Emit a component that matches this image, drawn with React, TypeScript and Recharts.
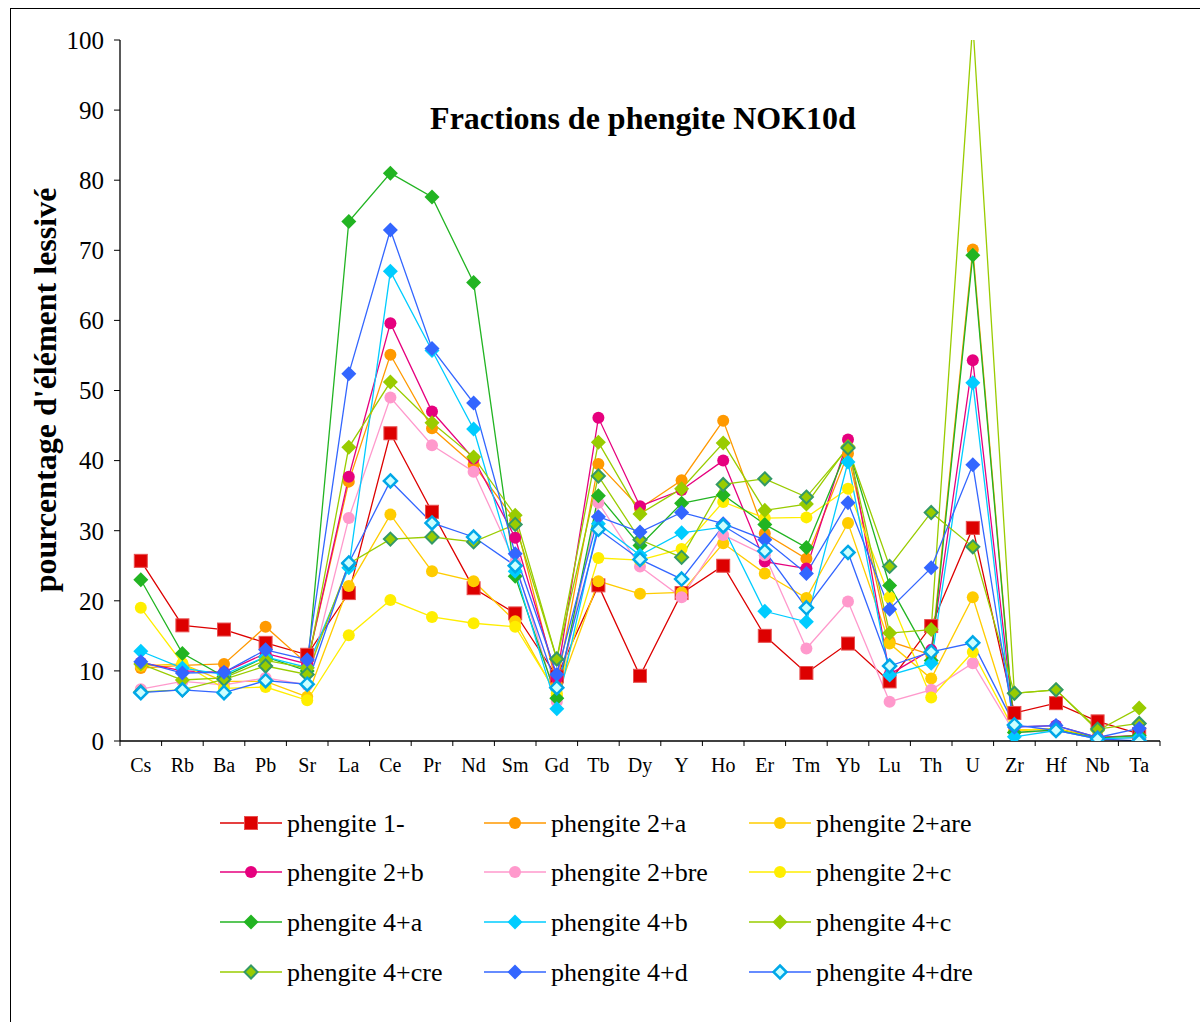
import { LineChart, Line, XAxis, YAxis } from "recharts";

const categories = [
  "Cs", "Rb", "Ba", "Pb", "Sr", "La", "Ce", "Pr", "Nd", "Sm", "Gd", "Tb", "Dy",
  "Y", "Ho", "Er", "Tm", "Yb", "Lu", "Th", "U", "Zr", "Hf", "Nb", "Ta",
];

const yTicks = [0, 10, 20, 30, 40, 50, 60, 70, 80, 90, 100];

// pourcentage d'élément lessivé, par fraction
const p1 = [25.7, 16.5, 15.9, 14.0, 12.3, 21.1, 43.9, 32.7, 21.8, 18.2, 9.2, 22.2, 9.3, 21.1, 25.0, 15.0, 9.7, 13.9, 8.5, 16.4, 30.4, 4.0, 5.4, 2.8, 1.0];
const p2a = [10.4, 10.8, 11.0, 16.3, 11.0, 37.0, 55.1, 44.6, 39.4, 31.5, 8.0, 39.5, 33.2, 37.2, 45.7, 29.6, 26.0, 41.0, 14.2, 12.3, 70.1, 1.5, 1.8, 0.5, 0.7];
const p2are = [10.7, 11.0, 8.5, 8.5, 6.3, 22.1, 32.3, 24.2, 22.8, 17.1, 6.5, 22.8, 21.0, 21.2, 28.2, 23.9, 20.4, 31.1, 13.9, 8.9, 20.5, 1.5, 1.7, 0.4, 0.6];
const p2b = [11.2, 10.0, 9.8, 12.5, 11.0, 37.7, 59.6, 47.0, 40.3, 29.0, 9.0, 46.1, 33.5, 35.8, 40.0, 25.6, 24.6, 43.0, 9.5, 13.0, 54.3, 2.0, 2.2, 0.5, 0.8];
const p2bre = [7.4, 8.5, 8.0, 9.0, 8.0, 31.8, 49.0, 42.2, 38.4, 25.5, 5.6, 34.0, 24.9, 20.5, 29.4, 26.5, 13.2, 19.9, 5.6, 7.3, 11.1, 1.2, 1.5, 0.3, 0.5];
const p2c = [19.0, 11.1, 7.5, 7.7, 5.8, 15.1, 20.1, 17.7, 16.8, 16.3, 6.8, 26.1, 25.8, 27.4, 34.1, 31.8, 31.9, 36.0, 20.5, 6.2, 12.7, 1.5, 1.8, 0.3, 0.6];
const p4a = [23.0, 12.5, 9.2, 12.0, 10.0, 74.1, 81.0, 77.6, 65.4, 23.5, 6.1, 35.0, 27.9, 33.9, 35.1, 30.9, 27.6, 41.9, 22.2, 11.5, 69.3, 1.2, 1.6, 0.4, 0.8];
const p4b = [12.8, 10.4, 9.5, 12.0, 10.5, 24.7, 67.0, 55.7, 44.5, 24.2, 4.6, 31.0, 26.5, 29.7, 30.5, 18.5, 17.0, 39.8, 9.4, 11.1, 51.1, 0.6, 1.5, 0.3, 0.5];
const p4c = [11.0, 8.7, 9.0, 11.5, 10.4, 41.9, 51.2, 45.4, 40.5, 32.2, 11.7, 42.6, 32.4, 36.0, 42.5, 32.9, 33.8, 42.0, 15.4, 15.9, 102.5, 6.8, 7.3, 1.5, 4.7];
const p4cre = [7.0, 7.3, 8.8, 10.7, 9.5, 25.3, 28.8, 29.1, 28.4, 30.9, 11.7, 37.8, 28.7, 26.2, 36.6, 37.4, 34.8, 41.8, 24.9, 32.6, 27.7, 6.8, 7.3, 1.7, 2.5];
const p4d = [11.3, 9.7, 9.8, 13.0, 11.6, 52.4, 72.9, 56.0, 48.2, 26.7, 9.5, 32.0, 29.8, 32.6, 31.0, 28.7, 23.9, 34.0, 18.8, 24.7, 39.4, 2.0, 2.2, 0.5, 1.8];
const p4dre = [6.9, 7.3, 6.9, 8.6, 8.1, 25.4, 37.1, 31.1, 29.1, 25.0, 7.6, 30.2, 25.9, 23.1, 30.7, 27.1, 19.0, 26.9, 10.7, 12.7, 14.0, 2.3, 1.5, 0.3, 0.0];

type Shape = "square" | "circle" | "diamond";

const series = [
  { key: "p1", name: "phengite 1-", values: p1, line: "#DD0000", shape: "square" as Shape, fill: "#DD0000", stroke: "#E85050", sw: 1 },
  { key: "p2a", name: "phengite 2+a", values: p2a, line: "#FF9900", shape: "circle" as Shape, fill: "#FF9900", stroke: "none", sw: 0 },
  { key: "p2are", name: "phengite 2+are", values: p2are, line: "#FFCC00", shape: "circle" as Shape, fill: "#FFCC00", stroke: "none", sw: 0 },
  { key: "p2b", name: "phengite 2+b", values: p2b, line: "#E6007E", shape: "circle" as Shape, fill: "#E6007E", stroke: "none", sw: 0 },
  { key: "p2bre", name: "phengite 2+bre", values: p2bre, line: "#FF99CC", shape: "circle" as Shape, fill: "#FF99CC", stroke: "none", sw: 0 },
  { key: "p2c", name: "phengite 2+c", values: p2c, line: "#FFEE00", shape: "circle" as Shape, fill: "#FFEE00", stroke: "none", sw: 0 },
  { key: "p4a", name: "phengite 4+a", values: p4a, line: "#22B422", shape: "diamond" as Shape, fill: "#22B422", stroke: "none", sw: 0 },
  { key: "p4b", name: "phengite 4+b", values: p4b, line: "#00CCFF", shape: "diamond" as Shape, fill: "#00CCFF", stroke: "none", sw: 0 },
  { key: "p4c", name: "phengite 4+c", values: p4c, line: "#99CC00", shape: "diamond" as Shape, fill: "#99CC00", stroke: "none", sw: 0 },
  { key: "p4cre", name: "phengite 4+cre", values: p4cre, line: "#99CC00", shape: "diamond" as Shape, fill: "#99CC00", stroke: "#339966", sw: 2 },
  { key: "p4d", name: "phengite 4+d", values: p4d, line: "#3366FF", shape: "diamond" as Shape, fill: "#3366FF", stroke: "none", sw: 0 },
  { key: "p4dre", name: "phengite 4+dre", values: p4dre, line: "#3366FF", shape: "diamond" as Shape, fill: "#CCFFFF", stroke: "#00A8E8", sw: 2.5 },
];

const data = categories.map((c, i) => {
  const row: Record<string, number | string> = { pos: i + 0.5, name: c };
  series.forEach((s) => (row[s.key] = s.values[i]));
  return row;
});

const serif = "'Liberation Serif', 'Times New Roman', serif";
const band = 1040 / categories.length;

const Marker = ({ shape, cx, cy, fill, stroke, sw }: any) => {
  if (cx == null || cy == null) return null;
  if (shape === "square")
    return <rect x={cx - 6.5} y={cy - 6.5} width={13} height={13} fill={fill} stroke={stroke} strokeWidth={sw} />;
  if (shape === "circle") return <circle cx={cx} cy={cy} r={6} fill={fill} />;
  const r = sw > 0 ? 6.5 : 7.5;
  return (
    <polygon
      points={`${cx},${cy - r} ${cx + r},${cy} ${cx},${cy + r} ${cx - r},${cy}`}
      fill={fill}
      stroke={stroke}
      strokeWidth={sw}
    />
  );
};

const CatTick = (props: any) => {
  const { x, y, payload } = props;
  const i = payload.value;
  if (i >= categories.length) return <g />;
  return (
    <text x={x + band / 2} y={y} dy="0.71em" textAnchor="middle" fontSize={20} fontFamily={serif} fill="#000">
      {categories[i]}
    </text>
  );
};

const LegendBox = () => {
  const cols = [251, 515, 780];
  const rows = [823, 872, 922, 972];
  return (
    <svg width={1200} height={1022} style={{ position: "absolute", left: 0, top: 0, pointerEvents: "none" }}>
      {series.map((s, i) => {
        const cx = cols[i % 3];
        const cy = rows[Math.floor(i / 3)];
        return (
          <g key={s.key}>
            <line x1={cx - 31} x2={cx + 31} y1={cy} y2={cy} stroke={s.line} strokeWidth={1.5} />
            <Marker shape={s.shape} cx={cx} cy={cy} fill={s.fill} stroke={s.stroke} sw={s.sw} />
            <text x={cx + 36} y={cy} dy="0.35em" fontSize={26} fontFamily={serif} fill="#000">
              {s.name}
            </text>
          </g>
        );
      })}
    </svg>
  );
};

export default function App() {
  return (
    <div style={{ position: "absolute", left: 0, top: 0, width: 1200, height: 1022, overflow: "hidden", background: "#fff" }}>
      <div style={{ position: "absolute", left: 10, top: 8, width: 1200, height: 1100, border: "1.5px solid #000" }} />
      <LineChart
        width={1200}
        height={1022}
        data={data}
        margin={{ top: 40, right: 40, bottom: 241, left: 60 }}
        style={{ position: "absolute", left: 0, top: 0 }}
      >
        <XAxis
          dataKey="pos"
          type="number"
          domain={[0, categories.length]}
          ticks={categories.map((_, i) => i).concat([categories.length])}
          interval={0}
          height={40}
          tickSize={5}
          tickMargin={12}
          tick={CatTick}
          axisLine={{ stroke: "#000", strokeWidth: 1.3 }}
          tickLine={{ stroke: "#000" }}
        />
        <YAxis
          type="number"
          domain={[0, 100]}
          ticks={yTicks}
          allowDataOverflow
          width={60}
          tickSize={6}
          tickMargin={10}
          tick={{ fontSize: 25, fontFamily: serif, fill: "#000" }}
          axisLine={{ stroke: "#000", strokeWidth: 1.3 }}
          tickLine={{ stroke: "#000" }}
        />
        {series.map((s) => (
          <Line
            key={s.key}
            dataKey={s.key}
            name={s.name}
            stroke={s.line}
            strokeWidth={1.3}
            isAnimationActive={false}
            dot={(p: any) => (
              <Marker
                key={`${s.key}-${p.index}`}
                shape={s.shape}
                cx={p.cx}
                cy={p.cy}
                fill={s.fill}
                stroke={s.stroke}
                sw={s.sw}
              />
            )}
            activeDot={false}
          />
        ))}
      </LineChart>
      <LegendBox />
      <div
        style={{
          position: "absolute",
          left: 0,
          width: 1286,
          top: 100,
          textAlign: "center",
          fontFamily: serif,
          fontWeight: "bold",
          fontSize: 32,
          lineHeight: "36px",
        }}
      >
        Fractions de phengite NOK10d
      </div>
      <svg width={80} height={1022} style={{ position: "absolute", left: 0, top: 0 }}>
        <text
          x={0}
          y={0}
          transform="translate(56, 390) rotate(-90)"
          textAnchor="middle"
          fontFamily={serif}
          fontWeight="bold"
          fontSize={32}
          fill="#000"
        >
          pourcentage d'élément lessivé
        </text>
      </svg>
    </div>
  );
}
